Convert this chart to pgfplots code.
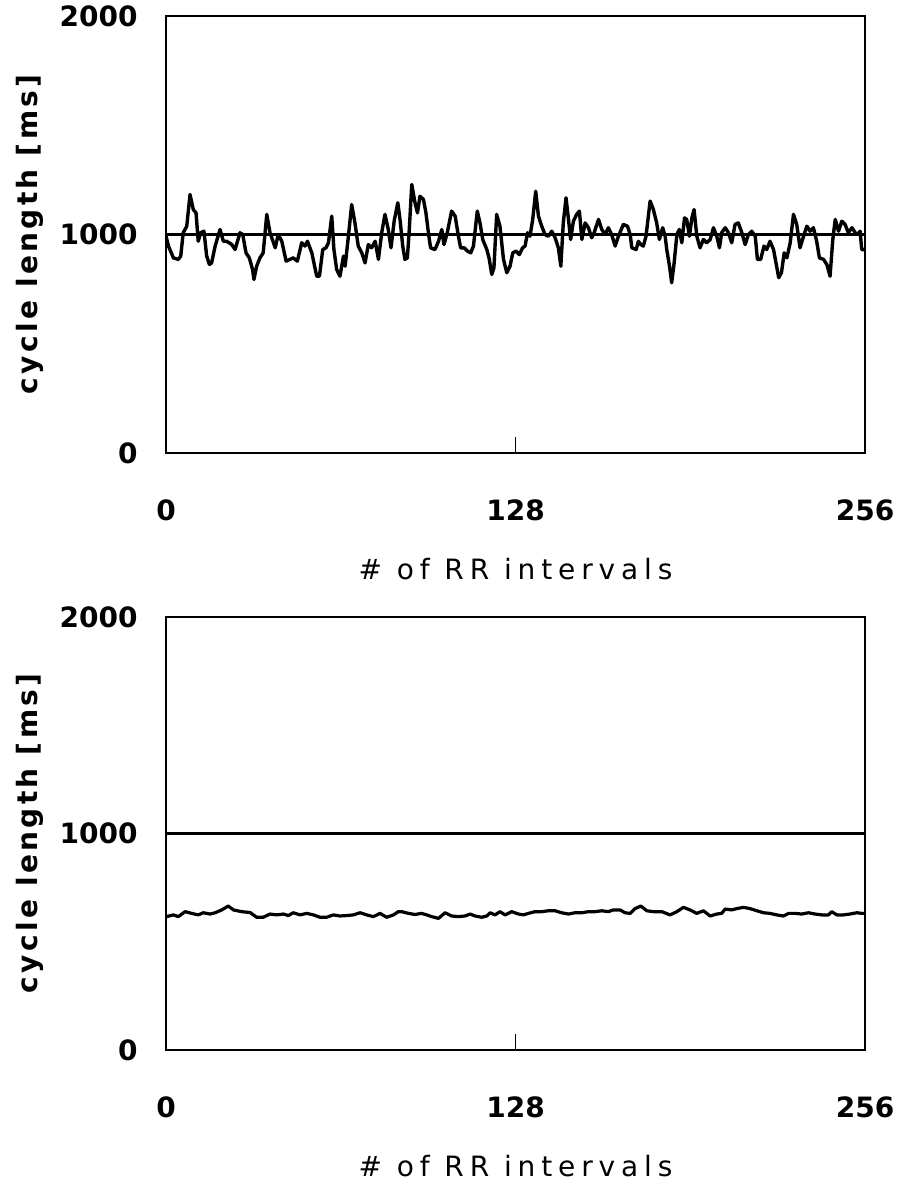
\documentclass[border=0pt]{standalone}
\usepackage{pgfplots}
\pgfplotsset{compat=1.18}
\usepackage{pgfplotstable}
\usepackage{fontspec}
\setmainfont{DejaVu Sans}
\newfontfamily\spaced[LetterSpace=21]{DejaVu Sans}
\newfontfamily\spacedy[LetterSpace=12]{DejaVu Sans}

\pgfplotstableread{
x y
0 992
0.9 947
2.7 893
4.5 886
5.4 901
6.3 1008
7.6 1038
8.8 1183
10.0 1114
11.0 1099
11.8 969
12.7 1008
13.9 1015
14.9 901
15.9 863
16.7 870
18.0 947
19.8 1023
21.0 969
22.2 969
24.1 954
25.3 931
27.1 1008
28.1 1000
29.3 916
30.5 893
31.7 840
32.2 794
33.2 855
34.4 893
35.6 916
36.9 1092
38.1 1008
40.0 939
41.1 1000
42.4 969
44.0 878
45.4 886
46.6 893
48.1 878
49.7 962
50.9 947
51.8 969
53.4 916
55.2 809
56.2 809
57.4 931
58.6 939
59.5 962
60.7 1084
61.5 931
62.5 840
63.7 809
65.0 901
65.6 855
66.8 992
68.0 1137
69.2 1053
70.4 947
71.7 916
72.9 870
74.1 954
75.3 939
76.6 969
77.8 886
79.0 1008
80.2 1092
81.4 1023
82.4 939
83.6 1065
84.9 1145
85.7 1069
86.7 947
87.5 886
88.4 893
89.1 1023
90.0 1229
91.2 1145
92.1 1099
93.0 1175
94.3 1160
95.2 1099
96.1 1008
96.9 939
98.5 931
99.8 969
101.0 1023
101.8 954
103.0 1008
104.6 1107
105.9 1084
107.1 992
107.9 939
109.2 939
110.4 924
111.6 916
112.6 947
114.0 1107
115.0 1053
116.0 977
117.5 931
118.3 893
119.3 817
120.1 847
121.1 1092
122.3 1038
123.6 886
124.8 825
126.0 855
127.0 916
128.2 924
129.4 908
130.6 939
131.5 947
132.4 1008
133.3 992
134.3 1069
135.4 1198
136.4 1084
137.6 1038
138.8 1000
140.0 992
141.3 1015
142.5 985
143.7 939
144.6 855
145.5 1053
146.5 1168
147.4 1069
148.2 977
149.2 1061
150.4 1092
151.4 1107
152.3 977
153.5 1053
154.7 1031
155.9 985
156.8 1008
158.4 1069
159.6 1023
160.8 1000
162.0 1031
163.2 1000
164.5 947
165.7 992
167.5 1046
169.0 1038
170.0 1000
170.6 939
172.2 931
173.0 969
173.9 954
174.8 947
175.8 992
177.3 1153
178.5 1114
179.7 1053
180.7 977
181.9 1031
182.8 992
183.4 931
184.4 855
185.2 779
186.1 870
187.1 1000
188.0 1023
188.9 962
189.9 1076
190.7 1069
191.7 992
192.6 1076
193.4 1114
194.4 992
195.6 939
196.8 977
198.0 962
199.3 977
200.5 1031
201.7 992
202.7 939
203.5 1008
204.8 1031
206.0 1008
207.2 962
208.4 1046
209.6 1053
210.9 1008
212.1 954
213.3 1000
214.5 1015
215.8 992
216.6 886
217.8 886
219.0 947
220.0 931
221.2 969
222.5 931
223.4 870
224.4 802
225.4 825
226.4 916
227.4 893
228.6 962
229.8 1092
231.0 1046
232.2 939
233.5 992
234.7 1038
235.9 1015
237.1 1031
238.3 969
239.3 893
240.8 886
242.0 863
243.2 809
244.2 977
245.1 1069
246.3 1015
247.5 1061
248.7 1046
249.9 1008
251.2 1031
252.4 1008
253.2 1000
254.2 1015
254.8 931
256.0 931
}\toptable

\pgfplotstableread{
x y
0.2 616
2.7 624
4.5 616
7.0 639
9.4 631
11.8 624
13.7 634
16.1 628
18.0 634
20.4 647
22.8 665
24.7 647
27.7 639
30.8 635
33.2 613
35.6 613
38.1 628
40.5 624
43.0 628
44.8 621
46.6 634
49.1 624
51.5 631
54.0 624
56.4 613
58.8 613
61.3 624
63.7 619
66.2 621
68.6 624
71.1 634
73.5 624
75.9 616
78.4 631
80.8 613
83.3 624
85.1 639
86.3 639
88.8 631
91.2 626
93.6 631
95.5 624
97.3 616
99.8 608
102.2 634
104.6 619
107.1 616
109.5 619
111.4 628
113.2 619
115.6 613
117.5 619
118.7 634
120.5 624
122.3 639
124.2 624
126.6 639
129.1 628
130.9 624
132.7 631
135.2 639
137.6 639
140.0 643
142.5 643
144.9 634
147.4 628
149.8 634
152.3 634
154.7 639
157.1 639
159.6 643
162.0 639
163.8 647
166.3 647
168.1 634
170.0 631
171.8 653
173.9 665
176.1 643
178.5 639
181.6 639
184.6 624
187.1 639
189.5 659
191.9 647
194.4 631
196.8 643
199.3 619
201.7 628
203.5 631
204.8 651
207.2 647
209.0 653
211.5 659
213.9 653
216.4 643
218.8 634
221.2 631
223.7 624
226.1 619
228.0 631
230.4 631
232.8 628
235.3 634
237.7 628
240.2 624
242.6 624
243.8 639
245.7 624
248.1 624
250.5 628
253.0 634
254.8 631
256.0 631
}\bottomtable

\pgfplotstableread{
x y
0 1000
256 1000
}\reftable

\begin{document}
\begin{tikzpicture}
\useasboundingbox (0,0) rectangle (451pt,591pt);
\pgfplotsset{myaxis/.style={
  scale only axis,
  width=349.5pt,
  anchor=south west,
  xmin=0, xmax=256, ymin=0, ymax=2000,
  xtick={0,128,256}, xticklabels={0,128,256},
  ytick={0,1000,2000}, yticklabels={0,1000,2000},
  xtick pos=bottom, ytick pos=left,
  tick align=inside,
  major tick length=8pt,
  ytick style={draw=none},
  xtick style={line width=0.9pt, black},
  axis line style={line width=1.1pt, black},
  tick label style={font=\fontsize{14}{16}\selectfont\bfseries},
  /pgf/number format/assume math mode=true,
  xticklabel style={anchor=center, yshift=-28.5pt},
  yticklabel style={anchor=east, inner sep=0pt, xshift=-14pt},
  xlabel={\spaced \# of RR intervals},
  ylabel={\spacedy\bfseries cycle length [ms]},
  label style={font=\fontsize{14}{16}\selectfont},
  xlabel style={at={(axis description cs:0.5,0)}, anchor=center, yshift=-58pt},
  ylabel style={at={(axis description cs:0,0.5)}, anchor=center, yshift=68pt},
}}
\begin{axis}[myaxis, at={(83pt,364.5pt)}, height=218.5pt]
\addplot[black, line width=1.1pt] table[x=x,y=y] {\reftable};
\addplot[black, line width=1.7pt, line join=round] table[x=x,y=y] {\toptable};
\end{axis}
\begin{axis}[myaxis, at={(83pt,66pt)}, height=216.5pt]
\addplot[black, line width=1.1pt] table[x=x,y=y] {\reftable};
\addplot[black, line width=1.6pt, line join=round] table[x=x,y=y] {\bottomtable};
\end{axis}
\end{tikzpicture}
\end{document}
